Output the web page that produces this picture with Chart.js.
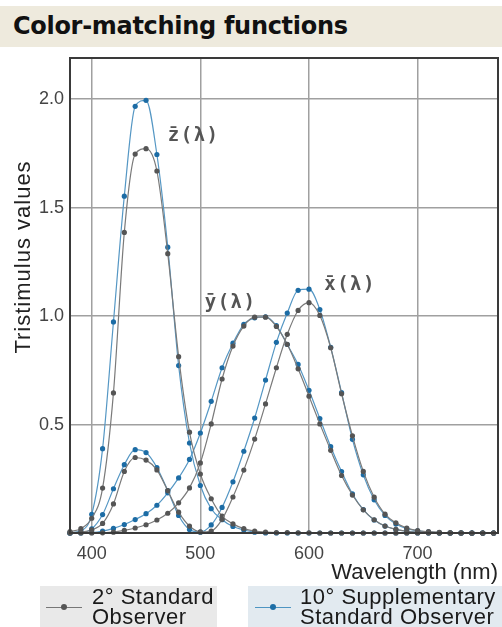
<!DOCTYPE html>
<html>
<head>
<meta charset="utf-8">
<script src="https://cdn.jsdelivr.net/npm/chart.js@4"></script>
<style>
  html, body { margin: 0; padding: 0; background: #fff; }
  #wrap { position: relative; width: 502px; height: 627px; overflow: hidden; }
  #head {
    position: absolute; left: 0; top: 6px; width: 502px; height: 41px;
    background: #eeeadd; font: bold 24px 'DejaVu Sans', sans-serif; color: #111;
    line-height: 41px; padding-left: 13px; box-sizing: border-box; letter-spacing: -0.3px;
  }
  canvas { position: absolute; left: 0; top: 0; }
  .leg {
    position: absolute; top: 586px; height: 41px;
    font: 22px 'Liberation Sans', Arial, sans-serif; color: #1a1a1a; line-height: 20px;
    letter-spacing: 0.5px;
  }
  .leg span { position: absolute; top: 1px; white-space: nowrap; }
  .leg i { position: absolute; top: 21px; height: 1px; }
  .leg b { position: absolute; top: 18px; width: 6px; height: 6px; border-radius: 50%; }
</style>
</head>
<body>
<div id="wrap">
  <div id="head">Color-matching functions</div>
  <canvas id="cmf" width="502" height="627"></canvas>
  <div class="leg" style="left:40px;width:177px;background:#e9e9e9">
    <i style="left:6px;width:36px;background:#777"></i><b style="left:21px;background:#555"></b>
    <span style="left:52px">2° Standard<br>Observer</span>
  </div>
  <div class="leg" style="left:248px;width:254px;background:#e2eaf0">
    <i style="left:7px;width:36px;background:#4e95c2"></i><b style="left:22px;background:#1d6ea6"></b>
    <span style="left:52px">10° Supplementary<br>Standard Observer</span>
  </div>
</div>
<script>
// wavelengths, 380..770 nm every 10 nm
const WAVELENGTHS = [380, 390, 400, 410, 420, 430, 440, 450, 460, 470, 480, 490, 500, 510, 520, 530,
  540, 550, 560, 570, 580, 590, 600, 610, 620, 630, 640, 650, 660, 670, 680, 690, 700, 710, 720, 730,
  740, 750, 760, 770];

// 2 degree standard observer
const X2 = [0.001, 0.004, 0.014, 0.044, 0.134, 0.284, 0.348, 0.336, 0.291, 0.195, 0.096, 0.032, 0.005,
  0.009, 0.063, 0.166, 0.290, 0.433, 0.595, 0.762, 0.916, 1.026, 1.062, 1.003, 0.854, 0.642, 0.448,
  0.284, 0.165, 0.087, 0.047, 0.023, 0.011, 0.006, 0.003, 0.001, 0.001, 0.000, 0.000, 0.000];
const Y2 = [0.000, 0.000, 0.000, 0.001, 0.004, 0.012, 0.023, 0.038, 0.060, 0.091, 0.139, 0.208, 0.323,
  0.503, 0.710, 0.862, 0.954, 0.995, 0.995, 0.952, 0.870, 0.757, 0.631, 0.503, 0.381, 0.265, 0.175,
  0.107, 0.061, 0.032, 0.017, 0.008, 0.004, 0.002, 0.001, 0.001, 0.000, 0.000, 0.000, 0.000];
const Z2 = [0.006, 0.020, 0.068, 0.207, 0.646, 1.386, 1.747, 1.772, 1.669, 1.288, 0.813, 0.465, 0.272,
  0.158, 0.078, 0.042, 0.020, 0.009, 0.004, 0.002, 0.002, 0.001, 0.001, 0.000, 0.000, 0.000, 0.000,
  0.000, 0.000, 0.000, 0.000, 0.000, 0.000, 0.000, 0.000, 0.000, 0.000, 0.000, 0.000, 0.000];

// 10 degree supplementary standard observer
const X10 = [0.000, 0.002, 0.019, 0.085, 0.204, 0.315, 0.384, 0.371, 0.302, 0.196, 0.081, 0.016, 0.004,
  0.037, 0.118, 0.236, 0.377, 0.530, 0.705, 0.879, 1.014, 1.119, 1.124, 1.030, 0.856, 0.647, 0.432,
  0.268, 0.153, 0.081, 0.041, 0.020, 0.010, 0.005, 0.002, 0.001, 0.001, 0.000, 0.000, 0.000];
const Y10 = [0.000, 0.000, 0.002, 0.009, 0.021, 0.039, 0.062, 0.089, 0.128, 0.185, 0.254, 0.339, 0.461,
  0.607, 0.762, 0.875, 0.962, 0.992, 0.997, 0.956, 0.869, 0.777, 0.658, 0.528, 0.398, 0.283, 0.180,
  0.108, 0.060, 0.032, 0.016, 0.008, 0.004, 0.002, 0.001, 0.000, 0.000, 0.000, 0.000, 0.000];
const Z10 = [0.001, 0.010, 0.086, 0.389, 0.973, 1.553, 1.967, 1.995, 1.745, 1.318, 0.772, 0.415, 0.219,
  0.112, 0.061, 0.030, 0.014, 0.004, 0.000, 0.000, 0.000, 0.000, 0.000, 0.000, 0.000, 0.000, 0.000,
  0.000, 0.000, 0.000, 0.000, 0.000, 0.000, 0.000, 0.000, 0.000, 0.000, 0.000, 0.000, 0.000];

const X_TICKS = [400, 500, 600, 700];
const Y_TICKS = [0.5, 1.0, 1.5, 2.0];

// curve labels: text, wavelength, value (left/middle anchor)
const CURVE_LABELS = ['z\u0304(\u03bb)', 'y\u0304(\u03bb)', 'x\u0304(\u03bb)'];
const LABEL_NM     = [470, 504, 614];
const LABEL_VAL    = [1.83, 1.06, 1.145];

const GRAY = { line: '#7a7a7a', dot: '#555555' };
const BLUE = { line: '#5597c4', dot: '#1c6ca5' };

function series(values, c) {
  return {
    data: WAVELENGTHS.map((nm, i) => ({ x: nm, y: values[i] })),
    borderColor: c.line,
    borderWidth: 1.2,
    pointRadius: 2.6,
    pointBackgroundColor: c.dot,
    pointBorderWidth: 0,
    cubicInterpolationMode: 'monotone',
    clip: false,
  };
}

const frame = {
  id: 'frame',
  afterDatasetsDraw(chart) {
    const { ctx, chartArea: a, scales } = chart;
    ctx.save();
    ctx.strokeStyle = '#3a3a3a';
    ctx.lineWidth = 2;
    ctx.strokeRect(a.left, a.top, a.right - a.left, a.bottom - a.top);

    ctx.fillStyle = '#555';
    ctx.font = 'bold 19px "DejaVu Sans Mono", monospace';
    ctx.letterSpacing = '1.5px';
    ctx.textBaseline = 'middle';
    CURVE_LABELS.forEach((t, i) => {
      ctx.fillText(t, scales.x.getPixelForValue(LABEL_NM[i]), scales.y.getPixelForValue(LABEL_VAL[i]));
    });

    ctx.translate(24, 257);
    ctx.rotate(-Math.PI / 2);
    ctx.textAlign = 'center';
    ctx.fillStyle = '#222';
    ctx.letterSpacing = '1px';
    ctx.font = '22px "Liberation Sans", Arial, sans-serif';
    ctx.fillText('Tristimulus values', 0, 0);
    ctx.restore();
  },
};

new Chart(document.getElementById('cmf'), {
  type: 'line',
  data: {
    datasets: [
      series(X2, GRAY), series(Y2, GRAY), series(Z2, GRAY),
      series(X10, BLUE), series(Y10, BLUE), series(Z10, BLUE),
    ],
  },
  plugins: [frame],
  options: {
    responsive: false,
    animation: false,
    layout: { padding: { top: 58, right: 3, bottom: 41, left: 0 } },
    plugins: { legend: { display: false }, tooltip: { enabled: false } },
    scales: {
      x: {
        type: 'linear',
        min: 380,
        max: 774,
        afterBuildTicks: s => { s.ticks = X_TICKS.map(v => ({ value: v })); },
        afterFit: s => { s.height = 53; },
        grid: { color: '#a0a0a0', lineWidth: 1.5, drawTicks: false },
        border: { display: false },
        ticks: { color: '#444', padding: 10, font: { family: 'Liberation Sans', size: 18 } },
        title: {
          display: true, text: 'Wavelength (nm)', align: 'end', color: '#222',
          padding: 0, font: { family: 'Liberation Sans', size: 22 },
        },
      },
      y: {
        min: 0,
        max: 2.19,
        afterBuildTicks: s => { s.ticks = Y_TICKS.map(v => ({ value: v })); },
        afterFit: s => { s.width = 70; },
        grid: { color: '#a0a0a0', lineWidth: 1.5, drawTicks: false },
        border: { display: false },
        ticks: {
          color: '#444', padding: 6, font: { family: 'Liberation Sans', size: 18 },
          callback: v => v.toFixed(1),
        },
      },
    },
  },
});
</script>
</body>
</html>
